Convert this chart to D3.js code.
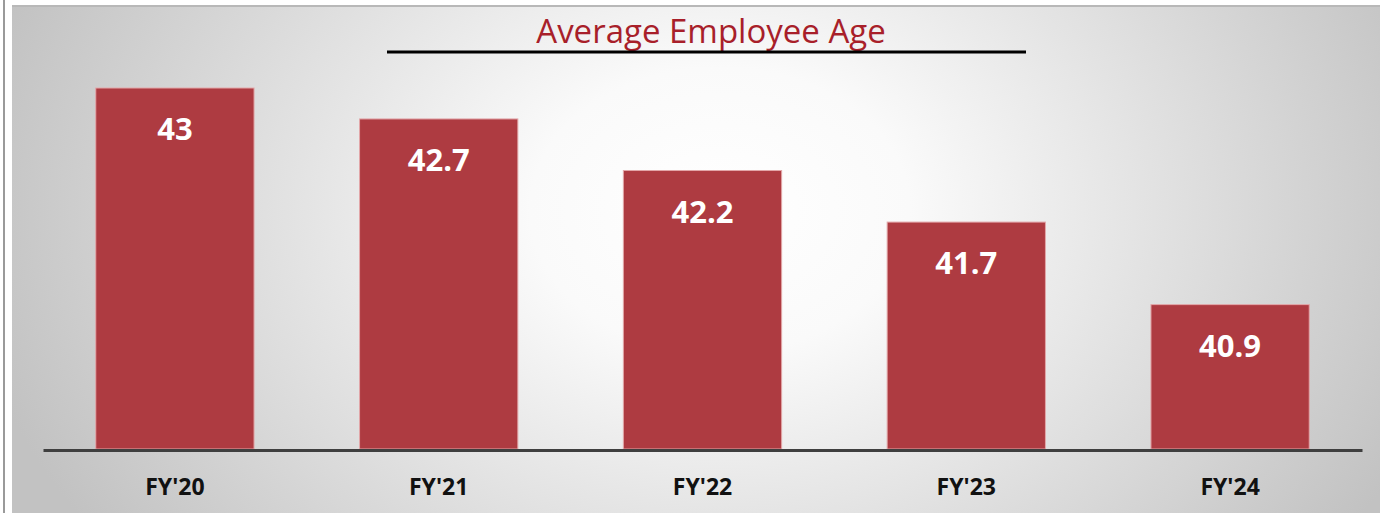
<!DOCTYPE html>
<html>
<head>
<meta charset="utf-8">
<title>Average Employee Age</title>
<script src="https://d3js.org/d3.v7.min.js"></script>
<style>
  body { margin: 0; background: #fff; }
  text { font-family: "Open Sans", sans-serif; }
</style>
</head>
<body>
<script>

// data
var years = ["FY'20", "FY'21", "FY'22", "FY'23", "FY'24"];
var ages = [43, 42.7, 42.2, 41.7, 40.9];
var chartTitle = "Average Employee Age";

var width = 1380,
    height = 513;

var svg = d3.select("body").append("svg")
    .attr("width", width)
    .attr("height", height);

// background gradient
var defs = svg.append("defs");
var grad = defs.append("radialGradient")
    .attr("id", "bg")
    .attr("gradientUnits", "userSpaceOnUse")
    .attr("cx", 720).attr("cy", 210)
    .attr("r", 760)
    .attr("gradientTransform", "translate(720,210) scale(1,0.75) translate(-720,-210)");
grad.append("stop").attr("offset", "0").attr("stop-color", "#ffffff");
grad.append("stop").attr("offset", "0.25").attr("stop-color", "#fafafa");
grad.append("stop").attr("offset", "1").attr("stop-color", "#c2c2c2");

// left rule outside the panel
svg.append("line")
    .attr("x1", 4).attr("x2", 4)
    .attr("y1", 0).attr("y2", height)
    .attr("stroke", "#9a9a9a")
    .attr("stroke-width", 2);

svg.append("rect")
    .attr("x", 12).attr("y", 6)
    .attr("width", width - 12).attr("height", height - 6)
    .attr("fill", "url(#bg)");

svg.append("line")
    .attr("x1", 12).attr("x2", width)
    .attr("y1", 6).attr("y2", 6)
    .attr("stroke", "#b8b8b8")
    .attr("stroke-width", 2);

// scales
var x = d3.scaleBand()
    .domain(years)
    .range([43, 1362])
    .paddingInner(0.4)
    .paddingOuter(0.2);

var y = d3.scaleLinear()
    .domain([39.5, 43])
    .range([449, 88]);

// title
svg.append("text")
    .attr("x", 711)
    .attr("y", 43)
    .attr("text-anchor", "middle")
    .attr("fill", "#a81f2a")
    .style("font-size", "33px")
    .text(chartTitle);

svg.append("line")
    .attr("x1", 387).attr("x2", 1026)
    .attr("y1", 52).attr("y2", 52)
    .attr("stroke", "#000")
    .attr("stroke-width", 3);

// bars
svg.selectAll(".bar")
    .data(ages)
  .enter().append("rect")
    .attr("class", "bar")
    .attr("x", function(d, i) { return x(years[i]); })
    .attr("y", function(d) { return y(d); })
    .attr("width", x.bandwidth())
    .attr("height", function(d) { return y(39.5) - y(d); })
    .attr("fill", "#ae3b41")
    .attr("stroke", "#e3a7a9")
    .attr("stroke-width", 1);

// value labels
svg.selectAll(".val")
    .data(ages)
  .enter().append("text")
    .attr("class", "val")
    .attr("x", function(d, i) { return x(years[i]) + x.bandwidth() / 2; })
    .attr("y", function(d) { return y(d) + 52; })
    .attr("text-anchor", "middle")
    .attr("fill", "#fff")
    .style("font-size", "31px")
    .style("font-weight", "bold")
    .text(function(d) { return d; });

// axis
var xAxis = svg.append("g")
    .attr("transform", "translate(0,450)")
    .call(d3.axisBottom(x).tickSize(0).tickPadding(29));

xAxis.select(".domain")
    .attr("stroke", "#3f3f3f")
    .attr("stroke-width", 3);

xAxis.selectAll("text")
    .attr("fill", "#111")
    .style("font-family", "'Open Sans', sans-serif")
    .style("font-size", "23px")
    .style("font-weight", "bold");

</script>
</body>
</html>
